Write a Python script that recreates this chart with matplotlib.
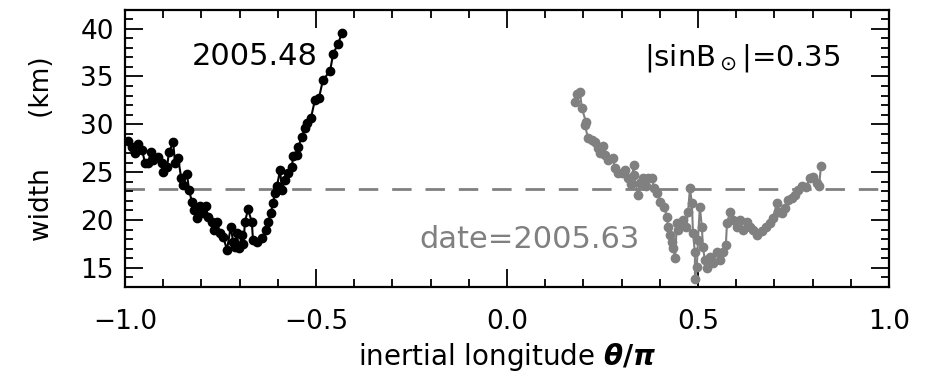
#!/usr/bin/env python3
import matplotlib
matplotlib.use('Agg')
import matplotlib.pyplot as plt
from matplotlib.ticker import MultipleLocator

# 2005.48 track (black)
lon_a = [-0.992, -0.982, -0.974, -0.966, -0.955, -0.948, -0.940, -0.932, -0.927, -0.914,
         -0.903, -0.901, -0.890, -0.885, -0.874, -0.869, -0.861, -0.853, -0.848, -0.838,
         -0.832, -0.825, -0.819, -0.812, -0.804, -0.796, -0.788, -0.783, -0.772, -0.767,
         -0.759, -0.751, -0.743, -0.733, -0.723, -0.717, -0.712, -0.707, -0.702, -0.694,
         -0.690, -0.686, -0.678, -0.668, -0.665, -0.654, -0.641, -0.631, -0.626, -0.618,
         -0.613, -0.607, -0.602, -0.594, -0.589, -0.581, -0.573, -0.563, -0.560, -0.550,
         -0.547, -0.537, -0.529, -0.524, -0.513, -0.503, -0.492, -0.482, -0.463, -0.455,
         -0.442, -0.432]
wid_a = [28.3, 27.6, 27.0, 27.9, 27.3, 26.0, 26.0, 27.1, 26.3, 26.6,
         26.0, 25.0, 25.5, 27.1, 28.1, 26.0, 26.5, 24.4, 23.7, 24.8,
         23.1, 21.9, 21.0, 20.2, 21.5, 20.7, 21.5, 20.3, 19.8, 19.0,
         19.8, 18.6, 18.2, 16.9, 19.3, 17.7, 17.2, 18.6, 17.1, 18.4,
         17.5, 19.8, 21.1, 19.8, 17.9, 17.7, 18.1, 19.0, 19.8, 20.7,
         21.8, 22.8, 23.6, 25.2, 23.1, 24.2, 24.9, 25.5, 26.7, 26.8,
         27.6, 28.7, 29.6, 30.1, 30.7, 32.5, 32.8, 34.6, 35.6, 37.4,
         38.4, 39.6]

# 2005.63 track (grey)
lon_b = [0.178, 0.183, 0.191, 0.196, 0.207, 0.204, 0.212, 0.223, 0.230, 0.238,
         0.243, 0.251, 0.257, 0.264, 0.277, 0.283, 0.291, 0.301, 0.309, 0.317,
         0.325, 0.332, 0.332, 0.343, 0.348, 0.356, 0.364, 0.369, 0.380, 0.385,
         0.393, 0.401, 0.411, 0.419, 0.421, 0.427, 0.432, 0.435, 0.440, 0.445,
         0.448, 0.455, 0.461, 0.469, 0.474, 0.479, 0.484, 0.487, 0.492, 0.492,
         0.497, 0.500, 0.505, 0.510, 0.513, 0.518, 0.524, 0.531, 0.539, 0.550,
         0.558, 0.565, 0.573, 0.576, 0.584, 0.592, 0.602, 0.610, 0.618, 0.628,
         0.636, 0.644, 0.654, 0.668, 0.678, 0.688, 0.696, 0.707, 0.709, 0.720,
         0.728, 0.736, 0.746, 0.754, 0.762, 0.772, 0.783, 0.793, 0.801, 0.812,
         0.817, 0.822]
wid_b = [32.3, 33.2, 33.4, 31.7, 30.2, 29.9, 28.6, 28.4, 28.1, 27.5,
         27.0, 27.7, 26.8, 26.3, 26.5, 25.4, 24.9, 24.9, 25.2, 24.4,
         23.8, 25.7, 24.7, 22.6, 23.9, 24.4, 23.6, 24.4, 24.4, 23.3,
         22.8, 21.9, 21.4, 20.3, 19.3, 18.4, 17.7, 17.1, 16.0, 19.7,
         19.0, 19.5, 20.0, 19.3, 20.8, 23.3, 21.8, 18.6, 16.6, 13.8,
         15.1, 17.9, 21.4, 19.3, 17.2, 15.8, 15.0, 16.1, 15.5, 16.6,
         15.8, 16.6, 17.4, 19.7, 20.8, 20.0, 19.3, 20.0, 19.0, 19.8,
         19.3, 19.0, 18.4, 18.8, 19.3, 19.7, 20.2, 21.8, 20.8, 20.7,
         21.2, 22.1, 22.3, 22.6, 23.1, 23.6, 23.4, 24.4, 24.5, 23.9,
         23.6, 25.6]

ref_width = 23.2
grey = '#808080'

plt.rcParams['font.family'] = ['DejaVu Sans']
plt.rcParams['mathtext.fontset'] = 'dejavusans'

fig = plt.figure(figsize=(9.26, 3.82), dpi=100)
ax = fig.add_axes([0.135, 0.249, 0.825, 0.726])

ax.axhline(ref_width, color=grey, lw=2, ls=(0, (7, 5)), zorder=1)
ax.plot(lon_a, wid_a, '-o', color='black', ms=6, lw=1.5, zorder=3)
ax.plot(lon_b, wid_b, '-o', color=grey, ms=6, lw=1.5, zorder=2)

ax.set_xlim(-1.0, 1.0)
ax.set_ylim(13, 42)
ax.xaxis.set_major_locator(MultipleLocator(0.5))
ax.xaxis.set_minor_locator(MultipleLocator(0.1))
ax.yaxis.set_minor_locator(MultipleLocator(1))
ax.set_yticks([15, 20, 25, 30, 35, 40])
ax.xaxis.set_major_formatter(plt.FuncFormatter(lambda v, p: f'{v:.1f}'.replace('-', '\u2212')))

ax.tick_params(which='both', direction='in', top=True, right=True, width=1.3)
ax.tick_params(which='major', length=13, labelsize=19)
ax.tick_params(axis='x', which='major', pad=16)
ax.tick_params(axis='y', which='major', pad=8)
ax.tick_params(which='minor', length=6)
for s in ax.spines.values():
    s.set_linewidth(1.6)

ax.set_xlabel(r'inertial longitude $\boldsymbol{\theta/\pi}$', fontsize=20, labelpad=4)
ax.set_ylabel('width      (km)', fontsize=19, labelpad=18)

ax.text(0.088, 0.80, '2005.48', transform=ax.transAxes, fontsize=22)
ax.text(0.68, 0.80, r'|sinB$_\odot$|=0.35', transform=ax.transAxes, fontsize=21)
ax.text(0.385, 0.14, 'date=2005.63', transform=ax.transAxes, fontsize=22, color=grey)

fig.savefig('out.png', dpi=100)
